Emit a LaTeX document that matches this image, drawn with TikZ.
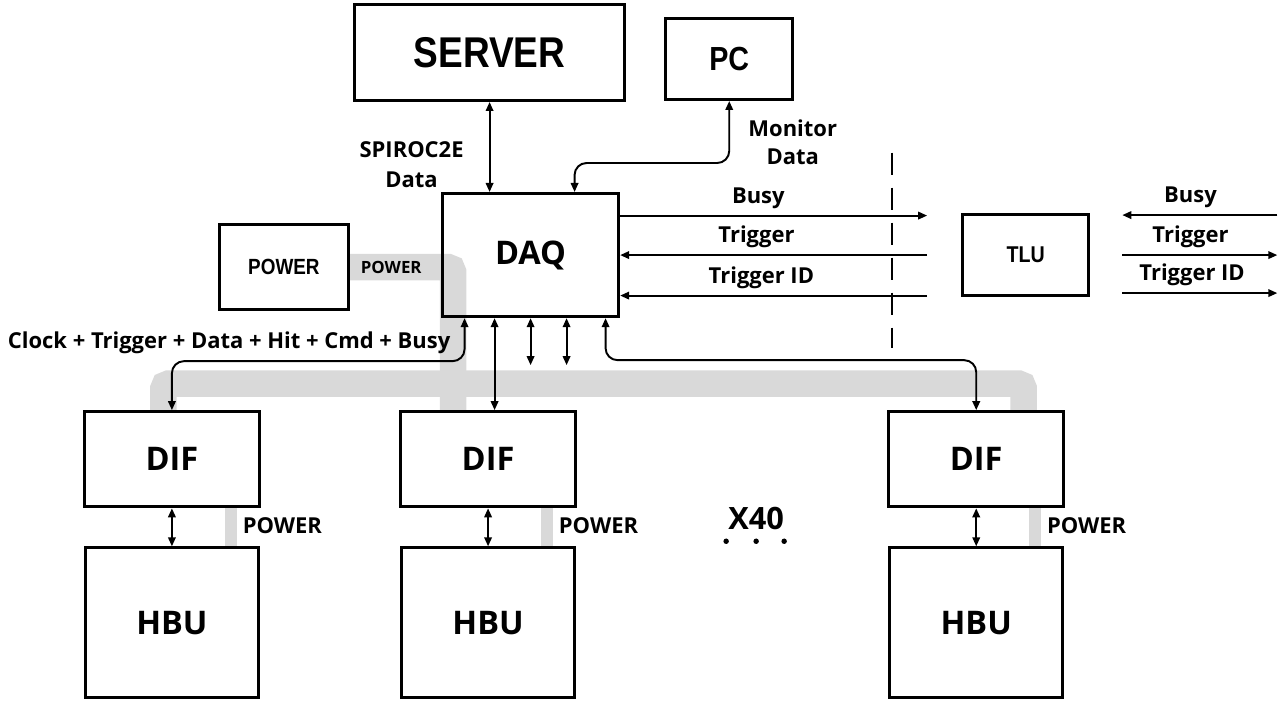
\documentclass[tikz,border=0pt]{standalone}
\usepackage{fontspec}
\setmainfont{Open Sans}
\newfontfamily\narrowfont{Liberation Sans}[FakeStretch=0.86]
\usetikzlibrary{arrows.meta,positioning,calc,backgrounds}
\definecolor{cbus}{RGB}{217,217,217}

\begin{document}
\begin{tikzpicture}[
  font=\bfseries\fontsize{12.5}{15}\selectfont,
  box/.style={draw, line width=1.8pt, inner sep=2pt, align=center},
  big/.style={box, font=\bfseries\fontsize{18.5}{20}\selectfont},
  difbox/.style={big, minimum width=35mm, minimum height=19mm},
  hbubox/.style={big, minimum width=34.6mm, minimum height=30mm},
  nbox/.style={box, font=\narrowfont\bfseries\fontsize{#1}{#1}\selectfont},
  ar/.style={-{Triangle[length=1.8mm,width=1.5mm]}, line width=1.1pt},
  dar/.style={{Triangle[length=1.8mm,width=1.5mm]}-{Triangle[length=1.8mm,width=1.5mm]}, line width=1.1pt},
  bus/.style={draw=cbus, line width=5.3mm, rounded corners=1mm},
  pbar/.style={draw=cbus, line width=2.4mm},
  sep/.style={line width=1.1pt, dash pattern=on 4.4mm off 2.6mm},
  two/.style={align=center, font=\bfseries\fontsize{12.5}{#1}\selectfont},
]
% ---- centre: DAQ ----
\node[big, minimum width=35.2mm, minimum height=24.6mm] (daq) {DAQ};
\useasboundingbox ($(daq.north west)+(-88.2mm,38.4mm)$) rectangle ++(255.6mm,-141.4mm);

% ---- top row ----
\node[nbox=24.5, minimum width=54mm, minimum height=19.2mm, above=18mm of daq, xshift=-8.2mm] (server) {SERVER};
\node[nbox=19, minimum width=25.4mm, minimum height=16.2mm, right=7.6mm of server, yshift=-1.3mm] (pc) {PC};
\node[nbox=12.5, minimum width=25.8mm, minimum height=17mm, left=18.2mm of daq, yshift=-2.4mm] (power) {POWER};
\node[nbox=13, minimum width=25.2mm, minimum height=16.2mm, right=68.2mm of daq] (tlu) {TLU};

% ---- DIF / HBU columns ----
\node[difbox, below=18.4mm of daq, xshift=-8.5mm] (dif2) {DIF};
\node[difbox, left=27.6mm of dif2] (dif1) {DIF};
\node[difbox, right=62mm of dif2] (dif3) {DIF};
\node[hbubox, below=7.6mm of dif1] (hbu1) {HBU};
\node[hbubox, below=7.6mm of dif2] (hbu2) {HBU};
\node[hbubox, below=7.6mm of dif3] (hbu3) {HBU};

% ---- power distribution (grey) ----
\begin{scope}[on background layer]
\draw[bus] (power.east) -| ($(dif2.north)+(-7mm,0)$)
  node[pos=0.2, font=\bfseries\fontsize{9.6}{11}\selectfont] {POWER};
\draw[bus] ($(dif1.north)+(-1.7mm,0)$) |- ($(dif2.north)+(0,5.3mm)$) -| ($(dif3.north)+(9.5mm,0)$);
\foreach \i in {1,2,3}
  \draw[pbar] ($(dif\i.south)+(11.8mm,0)$) coordinate (pb\i) -- (pb\i |- hbu\i.north)
    node[midway, right, yshift=0.4mm] {POWER};
\end{scope}

% ---- server / pc ----
\draw[dar] (server.south) -- (server.south |- daq.north);
\node[two=17] (spiroc) at ($(daq.north)+(-23.8mm,5.4mm)$) {SPIROC2E\\Data};
\coordinate (pcbend) at ($(daq.north)+(8.8mm,5.8mm)$);
\draw[dar, rounded corners=2.4mm] (pc.south) |- (pcbend) -- (pcbend |- daq.north);
\node[two=16] (mon) at ($(pc.south)+(12.7mm,-8.2mm)$) {Monitor\\Data};

% ---- trigger logic ----
\coordinate (tlin) at ($(tlu.west)+(-6.8mm,0)$);
\coordinate (busyL) at ($(tlin)+(0,7.9mm)$);
\coordinate (tidL) at ($(tlin)+(0,-8.1mm)$);
\draw[ar] (daq.east |- busyL) -- (busyL) node[pos=0.45, above] {Busy};
\draw[ar] (tlin) -- (tlin -| daq.east) node[pos=0.556, above] {Trigger};
\draw[ar] (tidL) -- (tidL -| daq.east) node[pos=0.54, above] {Trigger ID};
\draw[sep] ($(tlu.west)+(-13.8mm,20.5mm)$) coordinate (cut) -- ($(tlu.west)+(-13.8mm,-18.5mm)$);

\coordinate (tin) at ($(tlu.east)+(6.4mm,0)$);
\coordinate (tout) at ($(tlu.east)+(37.4mm,0)$);
\draw[ar] ($(tout)+(0,8mm)$) -- ($(tin)+(0,8mm)$) node[pos=0.56, above] {Busy};
\draw[ar] (tin) -- (tout) node[pos=0.44, above] {Trigger};
\draw[ar] ($(tin)+(0,-7.6mm)$) -- ($(tout)+(0,-7.6mm)$) node[pos=0.45, above] {Trigger ID};

% ---- DAQ to DIFs ----
\coordinate (clk) at ($(daq.south)+(-13.2mm,-8.6mm)$);
\draw[dar, rounded corners=2.4mm] (clk |- daq.south) -- (clk) -| (dif1.north);
\node[anchor=base east] (clklab) at ($(clk)+(-1.6mm,2.6mm)$) {Clock + Trigger + Data + Hit + Cmd + Busy};
\coordinate (dq) at ($(daq.south)+(-7.2mm,0)$);
\draw[dar] (dq) -- (dq |- dif2.north);
\draw[dar] (daq.south) -- ++(0,-9.4mm);
\draw[dar] ($(daq.south)+(7.2mm,0)$) -- ++(0,-9.4mm);
\coordinate (rgt) at ($(daq.south)+(15mm,-8.4mm)$);
\draw[dar, rounded corners=2.4mm] (rgt |- daq.south) -- (rgt) -| (dif3.north);

\foreach \i in {1,2,3}
  \draw[dar] (dif\i) -- (hbu\i);

% ---- x40 ----
\node[font=\bfseries\fontsize{17.5}{19}\selectfont] (x40) at ($(dif2.east)+(35.8mm,-11.8mm)$) {X40};
\foreach \dx in {-6mm,0mm,5.6mm}
  \fill ($(x40)+(\dx,-4.6mm)$) circle (0.55mm);
\end{tikzpicture}
\end{document}
